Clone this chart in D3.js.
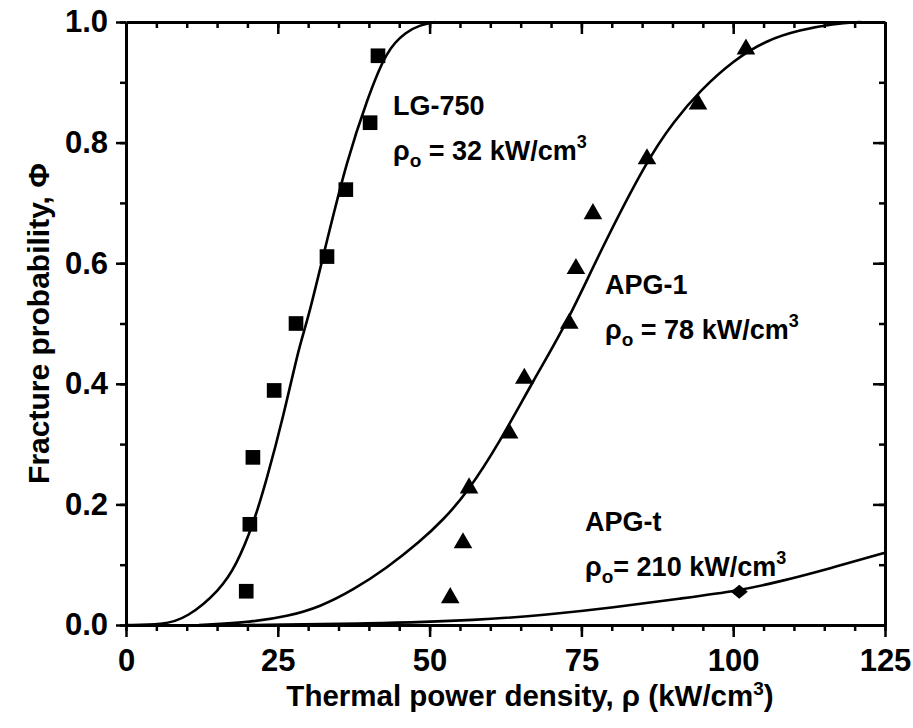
<!DOCTYPE html>
<html>
<head>
<meta charset="utf-8">
<script src="https://cdn.jsdelivr.net/npm/d3@7"></script>
<style>
  body { margin: 0; background: #fff; }
  text { font-family: "Liberation Sans", Arial, Helvetica, sans-serif; font-weight: bold; fill: #000; }
</style>
</head>
<body>
<div id="chart"></div>
<script>
// measured points (median ranks)
var lgX = [19.8, 20.4, 20.9, 24.4, 28.0, 33.1, 36.2, 40.2, 41.5]
var lgY = [0.056, 0.167, 0.278, 0.389, 0.5, 0.611, 0.722, 0.833, 0.944]
var apg1X = [53.4, 55.5, 56.5, 63.1, 65.6, 73.0, 74.1, 76.9, 85.8, 94.2, 102.1]
var apg1Y = [0.045, 0.136, 0.227, 0.318, 0.409, 0.5, 0.591, 0.682, 0.773, 0.864, 0.955]
var apgtX = [101]
var apgtY = [0.055]

// fitted curves
var lgFitX = [0, 6, 10, 15.5, 18.2, 20.9, 23.2, 25.9, 28.7, 29.8, 33.1, 36.4, 39.7, 42.9, 46.2, 48.4, 51]
var lgFitY = [0, 0, 0.011, 0.058, 0.1, 0.165, 0.242, 0.345, 0.47, 0.5, 0.638, 0.771, 0.871, 0.954, 0.984, 0.995, 1.0]
var apg1FitX = [12, 20.9, 26.5, 32, 37.4, 42.9, 48.4, 52.2, 56.1, 61.6, 67.1, 72.6, 78.1, 85.8, 90.2, 94.6, 100.1, 105.5, 111, 116.5, 121]
var apg1FitY = [0, 0.005, 0.014, 0.03, 0.058, 0.094, 0.138, 0.174, 0.218, 0.304, 0.406, 0.5, 0.62, 0.771, 0.835, 0.887, 0.937, 0.97, 0.987, 0.997, 1.0]
var apgtFitX = [20, 40, 58.3, 69.3, 80.3, 91.3, 101, 107.7, 116, 125]
var apgtFitY = [0, 0.002, 0.008, 0.017, 0.029, 0.044, 0.057, 0.072, 0.094, 0.12]

var xMajor = [0, 25, 50, 75, 100, 125]
var yMajor = [0, 0.2, 0.4, 0.6, 0.8, 1.0]
var xMinor = d3.range(0, 126, 5)
var yMinor = d3.range(0, 1.01, 0.1)

var W = 913, H = 728
var margin = {top: 22, right: 28, bottom: 103, left: 126}
var x0 = margin.left, x1 = W - margin.right, y0 = H - margin.bottom, y1 = margin.top

var svg = d3.select("#chart").append("svg")
    .attr("width", W)
    .attr("height", H)

var x = d3.scaleLinear().domain([0, 125]).range([x0, x1])
var y = d3.scaleLinear().domain([0, 1]).range([y0, y1])

function styleAxis(g) {
  g.selectAll("path.domain").attr("stroke", "#000").attr("stroke-width", 3)
  g.selectAll(".tick line").attr("stroke", "#000").attr("stroke-width", 2.5)
  g.selectAll(".tick text").style("font-size", "31px")
}

// minor ticks
svg.append("g").attr("transform", "translate(0," + y0 + ")")
  .call(d3.axisBottom(x).tickValues(xMinor).tickSize(6).tickFormat(""))
  .call(styleAxis).select(".domain").remove()
svg.append("g").attr("transform", "translate(0," + y1 + ")")
  .call(d3.axisBottom(x).tickValues(xMinor).tickSize(6).tickFormat(""))
  .call(styleAxis).select(".domain").remove()
svg.append("g").attr("transform", "translate(" + x0 + ",0)")
  .call(d3.axisLeft(y).tickValues(yMinor).tickSize(6).tickFormat(""))
  .call(styleAxis).select(".domain").remove()
svg.append("g").attr("transform", "translate(" + x1 + ",0)")
  .call(d3.axisLeft(y).tickValues(yMinor).tickSize(6).tickFormat(""))
  .call(styleAxis).select(".domain").remove()

// major ticks + frame
svg.append("g").attr("transform", "translate(0," + y0 + ")")
  .call(d3.axisBottom(x).tickValues(xMajor).tickSize(12).tickSizeOuter(0).tickPadding(12).tickFormat(d3.format("d")))
  .call(styleAxis)
svg.append("g").attr("transform", "translate(0," + y1 + ")")
  .call(d3.axisBottom(x).tickValues(xMajor).tickSize(12).tickSizeOuter(0).tickFormat(""))
  .call(styleAxis)
svg.append("g").attr("transform", "translate(" + x0 + ",0)")
  .call(d3.axisLeft(y).tickValues(yMajor).tickSize(10).tickSizeOuter(0).tickPadding(8).tickFormat(d3.format(".1f")))
  .call(styleAxis)
svg.append("g").attr("transform", "translate(" + x1 + ",0)")
  .call(d3.axisLeft(y).tickValues(yMajor).tickSize(12).tickSizeOuter(0).tickFormat(""))
  .call(styleAxis)

// fit curves
var line = d3.line()
    .x(function(d) { return x(d[0]) })
    .y(function(d) { return y(d[1]) })
    .curve(d3.curveBasis)

var fits = [[lgFitX, lgFitY], [apg1FitX, apg1FitY], [apgtFitX, apgtFitY]]
fits.forEach(function(f) {
  svg.append("path")
    .datum(d3.zip(f[0], f[1]))
    .attr("fill", "none")
    .attr("stroke", "#000")
    .attr("stroke-width", 2.6)
    .attr("d", line)
})

// markers
svg.selectAll(".sq").data(d3.zip(lgX, lgY)).enter().append("path")
  .attr("d", d3.symbol().type(d3.symbolSquare).size(215))
  .attr("transform", function(d) { return "translate(" + x(d[0]) + "," + y(d[1]) + ")" })
  .attr("fill", "#000")

svg.selectAll(".tri").data(d3.zip(apg1X, apg1Y)).enter().append("path")
  .attr("d", d3.symbol().type(d3.symbolTriangle).size(150))
  .attr("transform", function(d) { return "translate(" + x(d[0]) + "," + y(d[1]) + ")" })
  .attr("fill", "#000")

svg.selectAll(".dia").data(d3.zip(apgtX, apgtY)).enter().append("path")
  .attr("d", "M-8.5,0L0,-7L8.5,0L0,7Z")
  .attr("transform", function(d) { return "translate(" + x(d[0]) + "," + y(d[1]) + ")" })
  .attr("fill", "#000")

// annotations
function label(px, py, name, value) {
  svg.append("text").attr("x", px).attr("y", py).style("font-size", "27px").text(name)
  var t = svg.append("text").attr("x", px).attr("y", py + 45).style("font-size", "27px")
  t.append("tspan").text("\u03c1")
  t.append("tspan").attr("dy", 7).style("font-size", "19px").text("o")
  t.append("tspan").attr("dy", -7).text(value)
  t.append("tspan").attr("dy", -12).style("font-size", "18px").text("3")
}
label(393, 115, "LG-750", " = 32 kW/cm")
label(605, 294, "APG-1", " = 78 kW/cm")
label(585, 531, "APG-t", "= 210 kW/cm")

// axis titles
var xt = svg.append("text")
    .attr("x", 530).attr("y", 706)
    .attr("text-anchor", "middle")
    .style("font-size", "29.5px")
xt.append("tspan").text("Thermal power density, \u03c1 (kW/cm")
xt.append("tspan").attr("dy", -11).style("font-size", "19px").text("3")
xt.append("tspan").attr("dy", 11).text(")")

svg.append("text")
    .attr("transform", "translate(49," + ((y0 + y1) / 2) + ") rotate(-90)")
    .attr("text-anchor", "middle")
    .style("font-size", "30px")
    .text("Fracture probability, \u03a6")
</script>
</body>
</html>
